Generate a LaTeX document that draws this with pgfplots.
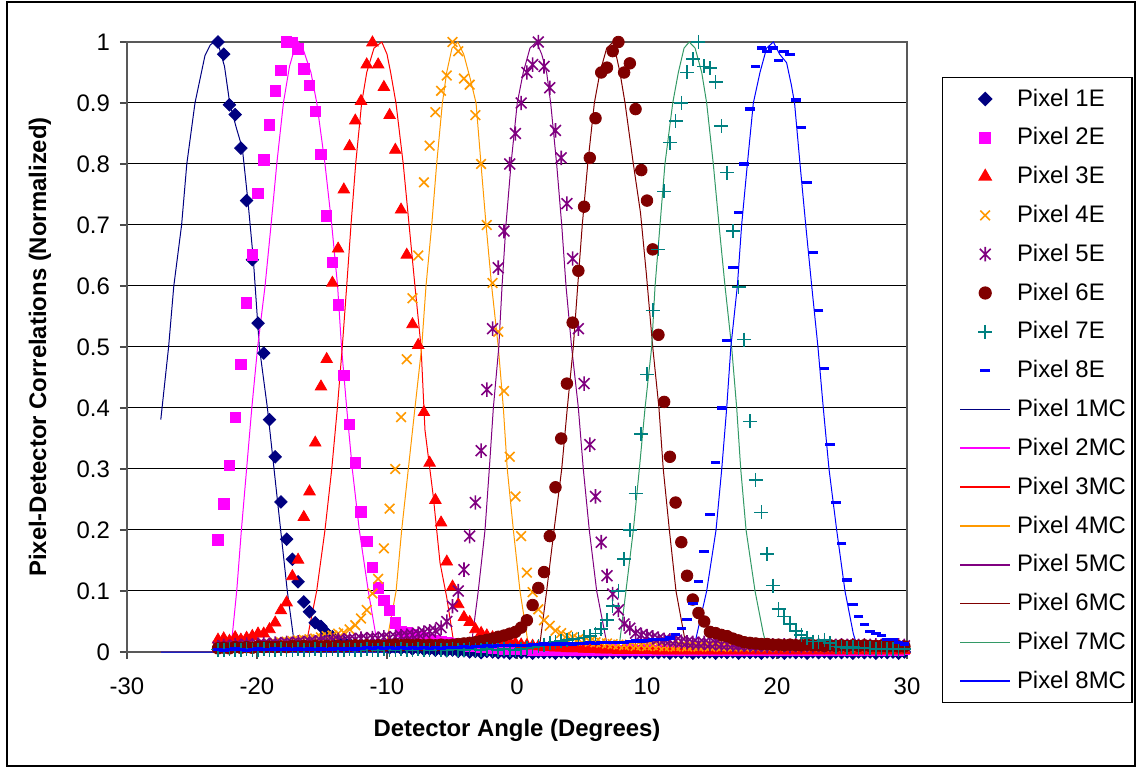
\documentclass[border=0pt]{standalone}
\usepackage{fontspec}
\setmainfont{Liberation Sans}
\usepackage{pgfplots}
\usepackage{pgfplotstable}
\pgfplotsset{compat=1.18}
\definecolor{cNavy}{RGB}{0,0,128}
\definecolor{cMag}{RGB}{255,0,255}
\definecolor{cRed}{RGB}{255,0,0}
\definecolor{cOrange}{RGB}{255,153,0}
\definecolor{cPurple}{RGB}{128,0,128}
\definecolor{cDRed}{RGB}{128,0,0}
\definecolor{cTeal}{RGB}{0,128,128}
\definecolor{cBlue}{RGB}{0,0,255}
\definecolor{cGreen}{RGB}{51,153,102}
\pgfdeclareplotmark{xstar}{%
  \pgfpathmoveto{\pgfqpoint{0pt}{\pgfplotmarksize}}%
  \pgfpathlineto{\pgfqpoint{0pt}{-\pgfplotmarksize}}%
  \pgfpathmoveto{\pgfqpoint{.75\pgfplotmarksize}{.75\pgfplotmarksize}}%
  \pgfpathlineto{\pgfqpoint{-.75\pgfplotmarksize}{-.75\pgfplotmarksize}}%
  \pgfpathmoveto{\pgfqpoint{-.75\pgfplotmarksize}{.75\pgfplotmarksize}}%
  \pgfpathlineto{\pgfqpoint{.75\pgfplotmarksize}{-.75\pgfplotmarksize}}%
  \pgfusepathqstroke}

\pgfplotstableread{
x a b c d e f g h
-23.00 1.0 0.184 0.020 0.008 0.008 0.006 0.004 0.004
-22.56 0.98 0.243 0.022 0.009 0.010 0.007 0.003 0.003
-22.12 0.897 0.306 0.018 0.008 0.009 0.006 0.005 0.004
-21.68 0.881 0.385 0.024 0.010 0.011 0.008 0.004 0.005
-21.24 0.826 0.471 0.020 0.009 0.010 0.007 0.003 0.004
-20.80 0.74 0.572 0.023 0.011 0.012 0.008 0.005 0.003
-20.36 0.643 0.651 0.026 0.010 0.011 0.007 0.004 0.004
-19.92 0.539 0.752 0.030 0.012 0.012 0.009 0.003 0.005
-19.48 0.49 0.807 0.030 0.011 0.013 0.008 0.005 0.004
-19.04 0.381 0.864 0.037 0.013 0.012 0.009 0.004 0.004
-18.60 0.32 0.92 0.048 0.015 0.014 0.008 0.003 0.005
-18.16 0.246 0.953 0.068 0.016 0.013 0.009 0.005 0.004
-17.72 0.185 1.0 0.081 0.017 0.015 0.008 0.004 0.005
-17.28 0.152 0.999 0.124 0.018 0.014 0.010 0.003 0.004
-16.84 0.115 0.989 0.151 0.019 0.016 0.009 0.005 0.005
-16.40 0.082 0.956 0.221 0.020 0.015 0.010 0.004 0.004
-15.96 0.066 0.929 0.263 0.021 0.017 0.009 0.003 0.005
-15.52 0.048 0.886 0.343 0.022 0.016 0.010 0.005 0.004
-15.08 0.042 0.816 0.435 0.024 0.018 0.009 0.004 0.005
-14.64 0.031 0.715 0.48 0.026 0.017 0.010 0.003 0.004
-14.20 0.025 0.639 0.605 0.027 0.019 0.009 0.005 0.005
-13.76 0.020 0.569 0.661 0.030 0.020 0.010 0.004 0.006
-13.32 0.016 0.453 0.758 0.032 0.019 0.009 0.003 0.005
-12.88 0.013 0.373 0.829 0.037 0.021 0.010 0.005 0.006
-12.44 0.011 0.31 0.871 0.044 0.020 0.011 0.004 0.005
-12.00 0.010 0.23 0.903 0.055 0.022 0.010 0.003 0.006
-11.56 0.009 0.181 0.963 0.069 0.021 0.011 0.005 0.007
-11.12 0.010 0.139 0.999 0.096 0.023 0.010 0.004 0.006
-10.68 0.008 0.105 0.963 0.12 0.022 0.011 0.003 0.007
-10.24 0.009 0.085 0.926 0.17 0.024 0.010 0.005 0.006
-9.80 0.007 0.068 0.88 0.235 0.023 0.011 0.004 0.007
-9.36 0.008 0.048 0.823 0.30 0.025 0.012 0.003 0.006
-8.92 0.006 0.034 0.725 0.385 0.026 0.011 0.005 0.007
-8.48 0.007 0.031 0.651 0.48 0.027 0.012 0.004 0.006
-8.04 0.005 0.028 0.537 0.58 0.028 0.011 0.003 0.007
-7.60 0.006 0.025 0.503 0.65 0.030 0.012 0.005 0.006
-7.16 0.004 0.023 0.393 0.77 0.032 0.011 0.004 0.007
-6.72 0.005 0.021 0.31 0.83 0.034 0.012 0.003 0.006
-6.28 0.003 0.019 0.249 0.885 0.035 0.011 0.005 0.007
-5.84 0.004 0.017 0.212 0.92 0.040 0.012 0.004 0.006
-5.40 0.002 0.015 0.148 0.945 0.050 0.011 0.003 0.007
-4.96 0.003 0.014 0.107 1.0 0.075 0.012 0.005 0.008
-4.52 0.001 0.012 0.078 0.985 0.10 0.013 0.004 0.008
-4.08 0.002 0.011 0.057 0.94 0.135 0.014 0.003 0.009
-3.64 0.000 0.010 0.049 0.93 0.19 0.015 0.005 0.008
-3.20 0.001 0.009 0.037 0.88 0.245 0.016 0.004 0.009
-2.76 -0.001 0.008 0.031 0.80 0.33 0.018 0.003 0.009
-2.32 0.001 0.008 0.027 0.70 0.43 0.020 0.005 0.010
-1.88 0.000 0.007 0.024 0.605 0.53 0.022 0.004 0.009
-1.44 -0.001 0.006 0.021 0.525 0.63 0.025 0.003 0.010
-1.00 0.000 0.005 0.018 0.428 0.69 0.027 0.005 0.010
-0.56 -0.002 0.005 0.016 0.32 0.80 0.030 0.004 0.011
-0.12 0.000 0.004 0.014 0.255 0.85 0.033 0.003 0.010
0.32 -0.001 0.004 0.012 0.19 0.90 0.040 0.005 0.011
0.76 0.000 0.004 0.011 0.13 0.95 0.052 0.006 0.011
1.20 -0.002 0.003 0.010 0.098 0.963 0.077 0.008 0.012
1.64 0.000 0.003 0.009 0.07 1.0 0.105 0.010 0.012
2.08 -0.001 0.004 0.008 0.052 0.96 0.131 0.012 0.013
2.52 0.000 0.003 0.008 0.043 0.925 0.19 0.014 0.012
2.96 -0.002 0.003 0.007 0.035 0.855 0.27 0.016 0.013
3.40 0.000 0.004 0.007 0.031 0.81 0.35 0.018 0.013
3.84 -0.001 0.003 0.006 0.027 0.735 0.44 0.020 0.014
4.28 0.000 0.003 0.006 0.024 0.645 0.54 0.021 0.013
4.72 -0.002 0.004 0.006 0.021 0.53 0.625 0.022 0.014
5.16 0.000 0.003 0.005 0.019 0.44 0.73 0.024 0.014
5.60 -0.001 0.003 0.005 0.017 0.34 0.81 0.026 0.015
6.04 0.000 0.004 0.005 0.016 0.255 0.875 0.030 0.014
6.48 -0.002 0.003 0.004 0.015 0.18 0.95 0.038 0.015
6.92 0.000 0.003 0.004 0.014 0.125 0.958 0.052 0.015
7.36 -0.001 0.004 0.004 0.013 0.095 0.985 0.075 0.016
7.80 0.000 0.003 0.003 0.012 0.069 1.0 0.10 0.016
8.24 -0.002 0.003 0.004 0.011 0.046 0.95 0.152 0.016
8.68 0.000 0.004 0.003 0.012 0.039 0.965 0.20 0.017
9.12 -0.001 0.003 0.003 0.010 0.031 0.89 0.26 0.018
9.56 0.000 0.003 0.004 0.011 0.028 0.79 0.357 0.018
10.00 -0.002 0.004 0.003 0.010 0.026 0.74 0.455 0.019
10.44 0.000 0.003 0.003 0.011 0.024 0.66 0.56 0.020
10.88 -0.001 0.003 0.002 0.010 0.022 0.52 0.66 0.021
11.32 0.000 0.004 0.003 0.009 0.020 0.41 0.755 0.020
11.76 -0.002 0.003 0.002 0.010 0.019 0.32 0.835 0.023
12.20 0.000 0.003 0.003 0.009 0.018 0.245 0.87 0.029
12.64 -0.001 0.004 0.002 0.010 0.017 0.18 0.90 0.039
13.08 0.000 0.003 0.003 0.009 0.016 0.125 0.95 0.053
13.52 -0.002 0.003 0.002 0.010 0.015 0.086 0.972 0.08
13.96 0.000 0.004 0.003 0.009 0.014 0.064 1.0 0.115
14.40 -0.001 0.003 0.002 0.010 0.015 0.05 0.96 0.165
14.84 0.000 0.003 0.003 0.009 0.013 0.033 0.957 0.225
15.28 -0.002 0.004 0.002 0.010 0.014 0.031 0.934 0.31
15.72 0.000 0.003 0.003 0.009 0.012 0.028 0.862 0.40
16.16 -0.001 0.003 0.002 0.010 0.013 0.026 0.786 0.51
16.60 0.000 0.004 0.003 0.009 0.012 0.022 0.69 0.63
17.04 -0.002 0.003 0.002 0.010 0.011 0.019 0.598 0.72
17.48 0.000 0.003 0.003 0.009 0.012 0.016 0.512 0.80
17.92 -0.001 0.004 0.002 0.010 0.011 0.015 0.378 0.89
18.36 0.000 0.003 0.003 0.009 0.010 0.014 0.282 0.96
18.80 -0.002 0.003 0.002 0.010 0.011 0.013 0.229 0.99
19.24 0.000 0.004 0.003 0.009 0.010 0.013 0.161 0.985
19.68 -0.001 0.003 0.002 0.010 0.011 0.012 0.109 0.99
20.12 0.000 0.003 0.003 0.009 0.010 0.012 0.07 0.97
20.56 -0.002 0.004 0.002 0.010 0.011 0.011 0.058 0.985
21.00 0.000 0.003 0.003 0.009 0.010 0.012 0.046 0.98
21.44 -0.001 0.003 0.002 0.010 0.011 0.011 0.034 0.905
21.88 0.000 0.004 0.003 0.009 0.010 0.011 0.028 0.86
22.32 -0.002 0.003 0.002 0.010 0.011 0.012 0.023 0.77
22.76 0.000 0.003 0.003 0.009 0.010 0.011 0.017 0.655
23.20 -0.001 0.004 0.002 0.010 0.011 0.011 0.017 0.56
23.64 0.000 0.003 0.003 0.009 0.010 0.010 0.020 0.465
24.08 -0.002 0.003 0.002 0.010 0.011 0.011 0.015 0.34
24.52 0.000 0.004 0.003 0.009 0.010 0.010 0.009 0.245
24.96 -0.001 0.003 0.002 0.010 0.011 0.011 0.008 0.178
25.40 0.000 0.003 0.003 0.009 0.010 0.010 0.007 0.118
25.84 -0.002 0.004 0.002 0.010 0.011 0.011 0.008 0.078
26.28 0.000 0.003 0.003 0.009 0.010 0.010 0.006 0.058
26.72 -0.001 0.003 0.002 0.010 0.011 0.011 0.007 0.045
27.16 0.000 0.004 0.003 0.009 0.010 0.010 0.006 0.034
27.60 -0.002 0.003 0.002 0.010 0.011 0.010 0.005 0.030
28.04 0.000 0.003 0.003 0.009 0.010 0.010 0.006 0.027
28.48 -0.001 0.004 0.002 0.010 0.011 0.009 0.005 0.021
28.92 0.000 0.003 0.003 0.009 0.010 0.010 0.005 0.020
29.36 -0.002 0.003 0.002 0.010 0.011 0.009 0.004 0.015
29.80 0.000 0.004 0.003 0.009 0.010 0.009 0.005 0.013
}\datatable

\begin{document}
\begin{tikzpicture}
\path[use as bounding box] (-63.5bp,-59.5bp) rectangle (505.5bp,326bp);
\draw[black, line width=0.6bp] (-60bp,-57bp) rectangle (504bp,325bp);
\begin{axis}[
  at={(0,0)}, anchor=south west,
  scale only axis, width=390bp, height=305bp,
  xmin=-30, xmax=30, ymin=0, ymax=1,
  clip=false,
  axis line style={draw=black!65, line width=0.6bp},
  ymajorgrids, grid style={black, line width=0.5bp},
  xtick={-30,-20,-10,0,10,20,30},
  xticklabels={-30,-20,-10,0,10,20,30},
  ytick={0,0.1,0.2,0.3,0.4,0.5,0.6,0.7,0.8,0.9,1},
  yticklabels={0,0.1,0.2,0.3,0.4,0.5,0.6,0.7,0.8,0.9,1},
  tick align=outside, tick pos=left,
  major tick length=3.5bp,
  tick style={black!70, line width=0.6bp},
  ticklabel style={font=\fontsize{12}{14}\selectfont, inner sep=0pt},
  yticklabel style={anchor=east, xshift=-4.85bp},
  xticklabel style={anchor=north, yshift=-9.2bp},
  xlabel={Detector Angle (Degrees)},
  ylabel={Pixel-Detector Correlations (Normalized)},
  label style={font=\bfseries\fontsize{12}{14}\selectfont},
  xlabel style={at={(axis description cs:0.5,-0.1287)}, anchor=center},
  ylabel style={at={(axis description cs:-0.1115,0.5)}, anchor=center},
  legend style={at={(rel axis cs:1.0449,0.943)}, anchor=north west,
    draw=black, line width=0.6bp, fill=white,
    font=\fontsize{12}{14}\selectfont,
    nodes={inner sep=0pt}, row sep=9.25bp, column sep=3bp,
    inner xsep=3bp, inner ysep=5.7bp},
  legend cell align=left,
  legend image code/.code={%
    \path (0bp,0bp);
    \draw[mark repeat=2,mark phase=2,#1,line width=0.8bp] plot coordinates {(5.5bp,0bp) (18bp,0bp) (30.5bp,0bp)};},
]
\addplot[only marks, mark=square*, mark size=2.2bp, mark options={rotate=45, draw=cNavy, fill=cNavy}] table[x=x,y=a]{\datatable};
\addplot[only marks, mark=square*, mark size=2.6bp, mark options={draw=cMag, fill=cMag}] table[x=x,y=b]{\datatable};
\addplot[only marks, mark=triangle*, mark size=3.3bp, mark options={draw=cRed, fill=cRed}] table[x=x,y=c]{\datatable};
\addplot[only marks, mark=x, mark size=3.4bp, mark options={draw=cOrange, line width=0.8bp}] table[x=x,y=d]{\datatable};
\addplot[only marks, mark=xstar, mark size=3.6bp, mark options={draw=cPurple, line width=0.8bp}] table[x=x,y=e]{\datatable};
\addplot[only marks, mark=*, mark size=2.9bp, mark options={draw=cDRed, fill=cDRed}] table[x=x,y=f]{\datatable};
\addplot[only marks, mark=+, mark size=3.5bp, mark options={draw=cTeal, line width=0.8bp}] table[x=x,y=g]{\datatable};
\addplot[only marks, mark=-, mark size=2.4bp, mark options={draw=cBlue, line width=1.6bp}] table[x=x,y=h]{\datatable};
\addplot[cNavy, line width=0.5bp, no marks] coordinates {(-27.4,0.381) (-26.8,0.5) (-26.4,0.6) (-25.8,0.7) (-25.4,0.8) (-24.77,0.9) (-24.0,0.978) (-23.6,0.995) (-23.3,1.0) (-22.9,0.99) (-22.5,0.96) (-22.1,0.9) (-21.6,0.86) (-21.13,0.826) (-20.7,0.74) (-20.28,0.643) (-19.82,0.5) (-19.2,0.4) (-18.69,0.3) (-18.18,0.2) (-17.67,0.1) (-17.15,0.017) (-17.0,0) (30,0)};
\addplot[cMag, line width=0.5bp, no marks] coordinates {(-27.4,0) (-22.2,0) (-21.95,0.017) (-21.56,0.1) (-21.2,0.2) (-20.8,0.3) (-20.4,0.4) (-19.95,0.5) (-19.38,0.6) (-18.92,0.7) (-18.48,0.8) (-17.97,0.9) (-17.5,0.96) (-17.1,0.99) (-16.8,1.0) (-16.4,0.985) (-15.85,0.95) (-15.4,0.9) (-14.77,0.8) (-14.25,0.7) (-13.8,0.6) (-13.5,0.5) (-13.1,0.4) (-12.67,0.3) (-12.13,0.2) (-11.44,0.1) (-10.8,0.02) (-10.5,0) (30,0)};
\addplot[cRed, line width=0.5bp, no marks] coordinates {(-27.4,0) (-16.4,0) (-16.18,0.017) (-15.41,0.1) (-14.77,0.2) (-14.25,0.3) (-13.82,0.4) (-13.44,0.5) (-13.1,0.6) (-12.77,0.7) (-12.41,0.8) (-11.95,0.9) (-11.56,0.95) (-11.0,0.99) (-10.4,1.0) (-10.0,0.98) (-9.72,0.95) (-9.31,0.9) (-8.75,0.8) (-8.3,0.7) (-7.85,0.6) (-7.38,0.5) (-7.08,0.364) (-6.44,0.255) (-5.92,0.146) (-5.41,0.09) (-4.9,0.02) (-4.7,0) (30,0)};
\addplot[cOrange, line width=0.5bp, no marks] coordinates {(-27.4,0) (-10.3,0) (-10.02,0.017) (-9.3,0.1) (-8.87,0.2) (-8.36,0.3) (-7.85,0.4) (-7.33,0.5) (-7.0,0.6) (-6.56,0.7) (-6.18,0.8) (-5.74,0.9) (-5.41,0.95) (-5.0,0.99) (-4.55,1.0) (-4.1,0.98) (-3.6,0.94) (-3.15,0.9) (-2.77,0.8) (-2.38,0.7) (-1.95,0.6) (-1.44,0.5) (-1.05,0.4) (-0.75,0.3) (-0.28,0.2) (0.23,0.1) (0.85,0.015) (1.1,0) (30,0)};
\addplot[cPurple, line width=0.5bp, no marks] coordinates {(-27.4,0) (-3.7,0) (-3.49,0.015) (-2.98,0.1) (-2.46,0.2) (-2.13,0.3) (-1.82,0.4) (-1.4,0.5) (-1.15,0.6) (-0.85,0.7) (-0.46,0.8) (0.02,0.9) (0.48,0.95) (1.0,0.99) (1.5,1.0) (1.9,0.98) (2.28,0.95) (2.59,0.9) (3.05,0.8) (3.44,0.7) (3.77,0.6) (4.2,0.5) (4.72,0.4) (5.1,0.3) (5.56,0.2) (6.13,0.1) (6.9,0.015) (7.1,0) (30,0)};
\addplot[cDRed, line width=0.5bp, no marks] coordinates {(-27.4,0) (1.5,0) (1.77,0.015) (2.28,0.1) (2.85,0.2) (3.44,0.3) (3.87,0.4) (4.33,0.5) (4.67,0.6) (5.02,0.7) (5.44,0.8) (5.95,0.9) (6.38,0.95) (6.9,0.99) (7.41,1.0) (7.92,0.95) (8.31,0.9) (8.95,0.8) (9.5,0.72) (9.95,0.62) (10.44,0.5) (10.92,0.4) (11.25,0.3) (11.72,0.2) (12.23,0.1) (12.92,0.02) (13.2,0) (30,0)};
\addplot[cGreen, line width=0.5bp, no marks] coordinates {(-27.4,0) (7.7,0) (7.92,0.02) (8.38,0.1) (8.95,0.2) (9.41,0.3) (9.85,0.4) (10.36,0.5) (10.62,0.6) (11.0,0.7) (11.38,0.8) (11.98,0.9) (12.41,0.95) (12.85,0.99) (13.25,1.0) (13.7,0.99) (14.21,0.95) (14.59,0.9) (15.1,0.8) (15.54,0.7) (16.0,0.6) (16.51,0.5) (16.9,0.4) (17.21,0.3) (17.62,0.2) (18.31,0.1) (18.95,0.03) (19.33,0) (30,0)};
\addplot[cBlue, line width=0.5bp, no marks] coordinates {(-27.4,0) (13.5,0) (13.69,0.015) (14.59,0.1) (15.31,0.2) (15.75,0.3) (16.13,0.4) (16.45,0.5) (16.95,0.6) (17.28,0.7) (17.72,0.8) (18.18,0.9) (18.69,0.95) (19.2,0.99) (19.72,1.0) (20.2,0.98) (20.74,0.966) (21.1,0.93) (21.35,0.9) (21.77,0.8) (22.21,0.7) (22.67,0.6) (23.15,0.5) (23.56,0.4) (24.0,0.3) (24.59,0.2) (25.23,0.1) (25.87,0.03) (26.3,0) (30,0)};
\legend{Pixel 1E, Pixel 2E, Pixel 3E, Pixel 4E, Pixel 5E, Pixel 6E, Pixel 7E, Pixel 8E, Pixel 1MC, Pixel 2MC, Pixel 3MC, Pixel 4MC, Pixel 5MC, Pixel 6MC, Pixel 7MC, Pixel 8MC}
\end{axis}
\end{tikzpicture}
\end{document}
